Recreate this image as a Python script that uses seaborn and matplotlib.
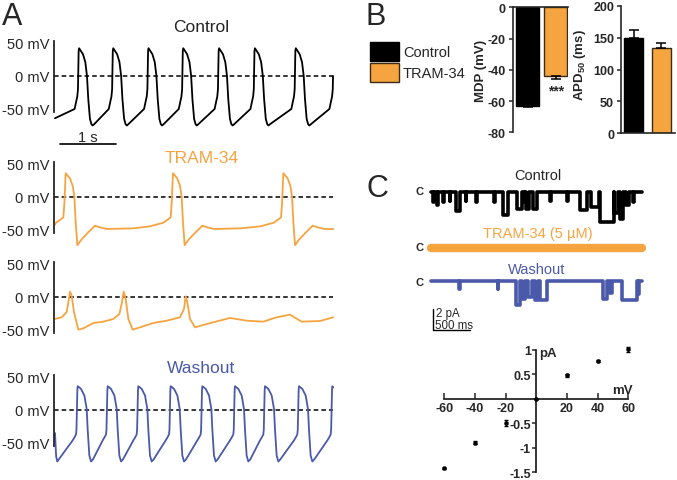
import numpy as np
import pandas as pd
import matplotlib
matplotlib.use('Agg')
import matplotlib.pyplot as plt
from matplotlib.patches import Patch
import seaborn as sns

# ------------------------------------------------------------------ data
# Panel A : action potentials (time in s, membrane potential in mV)
ctrl_onsets = [0.41, 1.02, 1.65, 2.27, 2.91, 3.55, 4.28, 4.96]
ctrl_tmpl_t = [-0.06, -0.03, -0.012, 0.0, 0.012, 0.02, 0.089, 0.131, 0.161, 0.184, 0.214, 0.24, 0.262, 0.29]
ctrl_tmpl_v = [-50, -38, -31, -20, 38, 42, 33, 21, 0, -35, -65, -73, -75, -73]
ctrl_start = (0.0, -64)
ctrl_end = (4.965, 0)

tram1_onsets = [0.167, 2.083, 4.054]
tram1_tmpl_t = [-0.387, -0.149, -0.018, 0.0, 0.024, 0.101, 0.149, 0.179, 0.202, 0.232, 0.309, 0.428, 0.547, 0.637, 0.756, 1.23]
tram1_tmpl_v = [-44.5, -39, -31, -10, 36, 28, 17, 0, -38, -73, -64, -53.5, -43.5, -46, -48.5, -47.5]
tram1_start = (0.0, -42)
tram1_end = (4.97, -48.5)

tram2_t = [0.0, 0.119, 0.208, 0.238, 0.268, 0.298, 0.339, 0.417, 0.506, 0.685, 0.863, 1.042,
           1.149, 1.190, 1.226, 1.262, 1.310, 1.387, 1.518, 1.756, 1.994, 2.232, 2.304, 2.333,
           2.363, 2.411, 2.5, 2.708, 3.125, 3.423, 3.720, 3.958, 4.196, 4.405, 4.732, 4.970]
tram2_v = [-33.3, -30.8, -23, -8, 8, 2, -23, -49.5, -47.5, -39.4, -37.4, -33.3,
           -25.8, -10.6, 8, -3, -33.3, -49.5, -46, -39.4, -35.9, -30.8, -18, 1,
           -8, -33.3, -46, -41, -31.8, -35.9, -37.4, -30.8, -26.8, -37.4, -36.4, -30.8]

wash_onsets = [0.387, 0.923, 1.470, 2.048, 2.613, 3.196, 3.732, 4.339, 4.935]
wash_tmpl_t = [-0.071, -0.036, -0.012, -0.004, 0.012, 0.018, 0.077, 0.137, 0.179, 0.196, 0.226, 0.256, 0.29]
wash_tmpl_v = [-46, -41, -37, -30, 30, 36, 32, 22, 1.5, -29, -69, -78, -75]
wash_start = (0.0, -35)
wash_pre = [(0.02, -70), (0.04, -78)]
wash_end = (4.965, 34)

mv_ticks = [50, 0, -50]
mv_labels = ['50 mV', '0 mV', '-50 mV']

# Panel B : summary bars
groups = ['Control', 'TRAM-34']
mdp_mean = [-63.0, -44.0]
mdp_sem = [1.0, 1.8]
apd_mean = [150.0, 134.0]
apd_sem = [12.0, 7.0]
mdp_ticks = [0, -20, -40, -60, -80]
apd_ticks = [0, 50, 100, 150, 200]

# Panel C : single-channel events (start ms, end ms, amplitude pA)
ctrl_ev_start = [30, 80, 165, 250, 340, 470, 610, 850, 970, 1160, 1250, 1290, 1375, 1610, 1840, 2014, 2160, 2290, 2470, 2555, 2630, 2730]
ctrl_ev_end = [38, 95, 180, 258, 395, 478, 625, 865, 1035, 1225, 1265, 1330, 1430, 1620, 1850, 2110, 2270, 2470, 2530, 2600, 2670, 2740]
ctrl_ev_amp = [-1.0, -1.3, -1.0, -0.9, -1.9, -0.9, -1.0, -1.0, -2.3, -1.7, -1.0, -1.7, -1.7, -0.9, -0.9, -1.8, -1.5, -3.0, -2.1, -2.7, -1.3, -1.0]
wash_ev_start = [380, 900, 1150, 1225, 1315, 1405, 1470, 2329, 2419, 2577, 2802]
wash_ev_end = [390, 910, 1204, 1270, 1360, 1450, 1563, 2374, 2440, 2780, 2815]
wash_ev_amp = [-0.8, -0.8, -2.4, -1.8, -1.6, -1.9, -1.9, -1.8, -1.2, -1.9, -1.3]
trace_dur = 2850

# Panel C : I-V relation
iv_mv = [-60, -40, -20, 0, 20, 40, 60]
iv_pa = [-1.42, -0.89, -0.50, 0.0, 0.48, 0.77, 1.01]
iv_sem = [0.02, 0.04, 0.06, 0.0, 0.03, 0.02, 0.05]
iv_xticks = [-60, -40, -20, 20, 40, 60]
iv_yticks = [-1.5, -1, -0.5, 0.5, 1]
iv_ylabels = ['-1.5', '-1', '-0.5', '0.5', '1']

# ------------------------------------------------------------------ style
W, H = 677, 481
sns.set_style('white')
plt.rcParams['font.family'] = ['Liberation Sans', 'DejaVu Sans']
plt.rcParams['mathtext.fontset'] = 'custom'
plt.rcParams['mathtext.rm'] = 'Liberation Sans'
plt.rcParams['mathtext.bf'] = 'Liberation Sans:bold'
plt.rcParams['axes.linewidth'] = 1.2

BLACK = '#000000'
ORANGE = '#F6A440'
BLUE = '#4A59A9'
EDGE = '#3d2a12'

fig = plt.figure(figsize=(W / 100, H / 100), dpi=100)


def add_ax(x0, y0, x1, y1):
    return fig.add_axes([x0 / W, 1 - y1 / H, (x1 - x0) / W, (y1 - y0) / H])


def ftext(x, y, s, **kw):
    return fig.text(x / W, 1 - y / H, s, **kw)


def build_trace(onsets, tt, tv, start, end, extra=()):
    pts = [start] + list(extra)
    for o in onsets:
        for dt, v in zip(tt, tv):
            t = o + dt
            if start[0] < t < end[0]:
                pts.append((t, v))
    pts.append(end)
    pts.sort()
    return pd.DataFrame(pts, columns=['t', 'v'])


def trace_ax(zero_y):
    ax = add_ax(54, zero_y - 37, 335, zero_y + 56.1)
    ax.set_xlim(-0.018, 5.0)
    ax.set_ylim(-85, 56)
    for s in ['top', 'right', 'bottom']:
        ax.spines[s].set_visible(False)
    ax.spines['left'].set_bounds(-54, 53)
    ax.spines['left'].set_linewidth(1.3)
    ax.patch.set_alpha(0)
    ax.hlines(0, -0.018, 4.96, colors='black', linestyles=(0, (3, 2)), lw=1.1)
    return ax


def finish_trace_ax(ax):
    ax.set_xticks([])
    ax.set_yticks(mv_ticks)
    ax.set_yticklabels(mv_labels, fontsize=10.5)
    ax.tick_params(axis='y', length=0, pad=3)
    ax.set_xlabel('')
    ax.set_ylabel('')


# ------------------------------------------------------------------ panel A
ax = trace_ax(77)
df = build_trace(ctrl_onsets, ctrl_tmpl_t, ctrl_tmpl_v, ctrl_start, ctrl_end)
sns.lineplot(data=df, x='t', y='v', sort=False, estimator=None, color=BLACK, lw=1.3, ax=ax)
ax.plot([0.089, 1.089], [-103, -103], color='black', lw=1.2, clip_on=False)
ax.text(0.59, -98.5, '1 s', ha='center', va='baseline', fontsize=10.5)
finish_trace_ax(ax)

ax = trace_ax(198)
df = build_trace(tram1_onsets, tram1_tmpl_t, tram1_tmpl_v, tram1_start, tram1_end)
sns.lineplot(data=df, x='t', y='v', sort=False, estimator=None, color=ORANGE, lw=1.3, ax=ax)
finish_trace_ax(ax)

ax = trace_ax(298)
sns.lineplot(x=tram2_t, y=tram2_v, sort=False, estimator=None, color=ORANGE, lw=1.3, ax=ax)
finish_trace_ax(ax)

ax = trace_ax(411)
df = build_trace(wash_onsets, wash_tmpl_t, wash_tmpl_v, wash_start, wash_end, extra=wash_pre)
sns.lineplot(data=df, x='t', y='v', sort=False, estimator=None, color=BLUE, lw=1.3, ax=ax)
finish_trace_ax(ax)

ftext(2, 25, 'A', fontsize=22, va='baseline')
ftext(201, 32, 'Control', fontsize=12.5, ha='center', va='baseline')
ftext(202, 163, 'TRAM-34', fontsize=12.5, ha='center', va='baseline', color=ORANGE)
ftext(201, 373, 'Washout', fontsize=12.5, ha='center', va='baseline', color=BLUE)

# ------------------------------------------------------------------ panel B
bdf = pd.DataFrame({'group': groups, 'mdp': mdp_mean, 'apd': apd_mean})

ax = add_ax(512.7, 8.3, 568.3, 133.3)
sns.barplot(data=bdf, x='group', y='mdp', hue='group', order=groups, hue_order=groups,
            palette=[BLACK, ORANGE], saturation=1, width=0.82, errorbar=None, legend=False,
            ax=ax, linewidth=1.0)
for p, ec in zip(ax.patches, [BLACK, EDGE]):
    p.set_edgecolor(ec)
ax.errorbar([0, 1], mdp_mean, yerr=[mdp_sem, [0, 0]], fmt='none', ecolor='black',
            elinewidth=1.1, capsize=3.3, capthick=1.1)
ax.set_xlim(-0.536, 1.45)
ax.set_ylim(-80, 0)
ax.spines['bottom'].set_visible(False)
ax.spines['right'].set_visible(False)
ax.set_xticks([])
ax.set_yticks(mdp_ticks)
ax.set_yticklabels([str(v) for v in mdp_ticks], fontsize=9, fontweight='bold')
ax.tick_params(axis='y', direction='out', length=3, width=1.1, pad=2, left=True)
ax.set_xlabel('')
ax.set_ylabel('MDP (mV)', fontsize=9.5, fontweight='bold')
ax.yaxis.set_label_coords(-0.47, 0.5)
ax.text(1, -53, '***', ha='center', va='center', fontsize=10, fontweight='bold')

ax = add_ax(621, 6.7, 675, 134.3)
sns.barplot(data=bdf, x='group', y='apd', hue='group', order=groups, hue_order=groups,
            palette=[BLACK, ORANGE], saturation=1, width=0.69, errorbar=None, legend=False,
            ax=ax, linewidth=1.0)
for p, ec in zip(ax.patches, [BLACK, EDGE]):
    p.set_edgecolor(ec)
ax.errorbar([0, 1], apd_mean, yerr=[[0, 0], apd_sem], fmt='none', ecolor='black',
            elinewidth=1.1, capsize=3.3, capthick=1.1)
ax.set_xlim(-0.465, 1.5)
ax.set_ylim(0, 200)
ax.spines['top'].set_visible(False)
ax.spines['right'].set_visible(False)
ax.set_xticks([])
ax.set_yticks(apd_ticks)
ax.set_yticklabels([str(v) for v in apd_ticks], fontsize=9, fontweight='bold')
ax.tick_params(axis='y', direction='out', length=3, width=1.1, pad=2, left=True)
ax.set_xlabel('')
ax.set_ylabel(r'APD$_{\mathbf{50}}$ (ms)', fontsize=9.5, fontweight='bold')
ax.yaxis.set_label_coords(-0.62, 0.54)

handles = [Patch(facecolor=BLACK, edgecolor=BLACK, label=groups[0]),
           Patch(facecolor=ORANGE, edgecolor=EDGE, label=groups[1])]
fig.legend(handles=handles, loc='upper left', bbox_to_anchor=(370 / W, 1 - 43 / H),
           bbox_transform=fig.transFigure, frameon=False, fontsize=10.5,
           handlelength=2.0, handleheight=1.62, handletextpad=0.25, labelspacing=0.14,
           borderpad=0, borderaxespad=0)

ftext(365, 25, 'B', fontsize=22, va='baseline')

# ------------------------------------------------------------------ panel C traces
def steps(starts, ends, amps, base):
    pts = [(0, base)]
    for s, e, a in zip(starts, ends, amps):
        pts += [(s, base), (s, base + a), (e, base + a), (e, base)]
    pts.append((trace_dur, base))
    return pd.DataFrame(pts, columns=['t', 'i'])


ax = add_ax(410, 180, 650, 340)
ax.set_xlim(-284, 2959)
ax.set_ylim(-14.7, 1.3)
ax.axis('off')
sns.lineplot(data=steps(ctrl_ev_start, ctrl_ev_end, ctrl_ev_amp, 0.0), x='t', y='i',
             sort=False, estimator=None, color=BLACK, lw=2.6, ax=ax)
sns.lineplot(x=[0, trace_dur], y=[-5.55, -5.55], sort=False, estimator=None,
             color=ORANGE, lw=6.0, ax=ax)
sns.lineplot(data=steps(wash_ev_start, wash_ev_end, wash_ev_amp, -8.9), x='t', y='i',
             sort=False, estimator=None, color=BLUE, lw=2.6, ax=ax)
ax.plot([27, 27, 527], [-11.7, -13.77, -13.77], color='black', lw=1.0)
ax.text(68, -12.4, '2 pA', fontsize=8.3, va='baseline')
ax.text(60, -13.6, '500 ms', fontsize=8.3, va='baseline')

ftext(367, 197, 'C', fontsize=22, va='baseline')
ftext(538, 180, 'Control', fontsize=10.5, ha='center', va='baseline')
ftext(538, 238, 'TRAM-34 (5 µM)', fontsize=10.5, ha='center', va='baseline', color=ORANGE)
ftext(537, 274, 'Washout', fontsize=10.5, ha='center', va='baseline', color=BLUE)
for yy in [192, 248, 283]:
    ftext(420, yy, 'C', fontsize=8, fontweight='bold', ha='center', va='center')

# ------------------------------------------------------------------ panel C I-V
ax = add_ax(441.3, 346.0, 631.4, 478.3)
ax.set_xlim(-62, 62)
ax.set_ylim(-1.6, 1.1)
ax.patch.set_alpha(0)
ax.errorbar(iv_mv, iv_pa, yerr=iv_sem, fmt='none', ecolor='black', elinewidth=1.0,
            capsize=1.5, capthick=1.0)
sns.scatterplot(x=iv_mv, y=iv_pa, color='black', s=9, edgecolor='black', ax=ax, zorder=3)
for s in ['top', 'right']:
    ax.spines[s].set_visible(False)
ax.spines['left'].set_position(('data', 0))
ax.spines['bottom'].set_position(('data', 0))
ax.spines['left'].set_bounds(-1.5, 1)
ax.spines['bottom'].set_bounds(-60, 60)
ax.spines['left'].set_linewidth(1.3)
ax.spines['bottom'].set_linewidth(1.3)
ax.set_xticks(iv_xticks)
ax.set_xticklabels([str(v) for v in iv_xticks], fontsize=9, fontweight='bold')
ax.set_yticks(iv_yticks)
ax.set_yticklabels(iv_ylabels, fontsize=9, fontweight='bold')
ax.tick_params(axis='x', direction='in', length=4, width=1.1, pad=2, bottom=True)
ax.tick_params(axis='y', direction='out', length=3, width=1.1, pad=1, left=True)
ax.set_xlabel('')
ax.set_ylabel('')
ftext(539, 357, 'pA', fontsize=9.5, fontweight='bold', va='baseline')
ftext(612, 394, 'mV', fontsize=9.5, fontweight='bold', va='baseline')

fig.savefig('out.png', dpi=100)
